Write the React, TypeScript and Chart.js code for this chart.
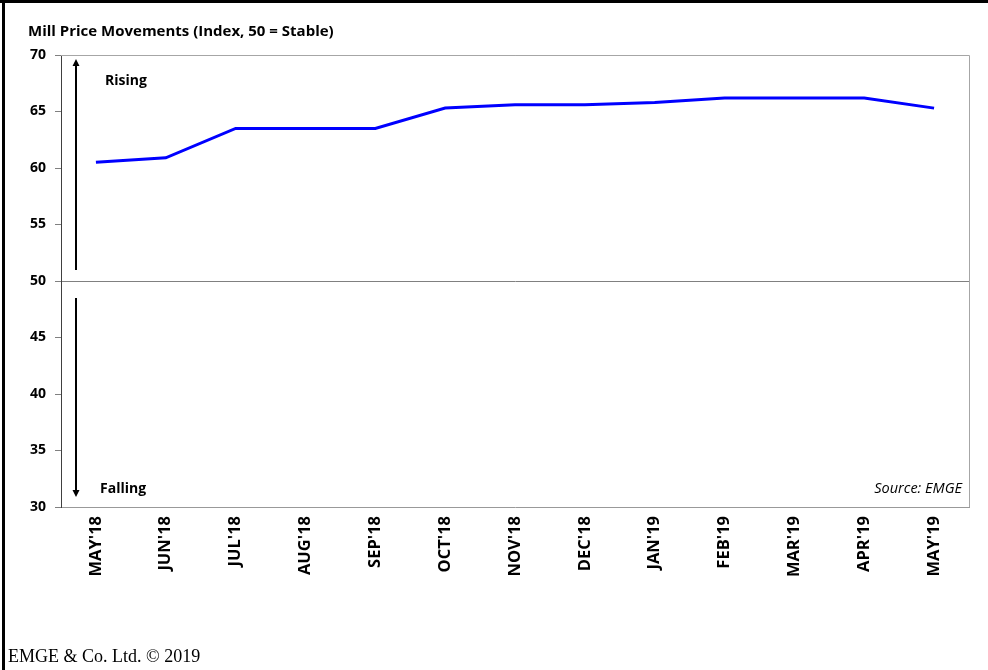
import React, { useEffect, useRef } from "react";
import { Chart, registerables } from "chart.js";

Chart.register(...registerables);

const months = [
  "MAY'18", "JUN'18", "JUL'18", "AUG'18", "SEP'18", "OCT'18", "NOV'18",
  "DEC'18", "JAN'19", "FEB'19", "MAR'19", "APR'19", "MAY'19",
];
const millPriceIndex = [60.5, 60.9, 63.5, 63.5, 63.5, 65.3, 65.6, 65.6, 65.8, 66.2, 66.2, 66.2, 65.3];
const yMin = 30;
const yMax = 70;
const yStep = 5;
const stableLevel = 50;

const titleText = "Mill Price Movements (Index, 50 = Stable)";
const risingText = "Rising";
const fallingText = "Falling";
const sourceText = "Source: EMGE";
const footerText = "EMGE & Co. Ltd. \u00A9 2019";

const SANS = "'Open Sans', Lato, 'DejaVu Sans', sans-serif";
const SERIF = "'Liberation Serif', 'DejaVu Serif', serif";

// Frame, title, direction arrows, notes and footer
const decorPlugin = {
  id: "decor",
  afterDraw(chart: any) {
    const { ctx, chartArea } = chart;
    const y = chart.scales.y;
    const { left, right, top, bottom } = chartArea;
    ctx.save();

    // page frame
    ctx.fillStyle = "#000";
    ctx.fillRect(0, 0, chart.width, 3);
    ctx.fillRect(2, 0, 3, chart.height);

    // plot border (top and right)
    ctx.strokeStyle = "#a6a6a6";
    ctx.lineWidth = 1;
    ctx.beginPath();
    ctx.moveTo(left, top + 0.5);
    ctx.lineTo(right + 0.5, top + 0.5);
    ctx.lineTo(right + 0.5, bottom);
    ctx.stroke();

    // title
    ctx.fillStyle = "#000";
    ctx.textBaseline = "alphabetic";
    ctx.textAlign = "left";
    ctx.font = `bold 15px ${SANS}`;
    ctx.fillText(titleText, 28, 36);

    // direction arrows
    const ax = left + 15;
    const midY = y.getPixelForValue(stableLevel);
    ctx.strokeStyle = "#000";
    ctx.lineWidth = 2;
    ctx.beginPath();
    ctx.moveTo(ax, midY - 11);
    ctx.lineTo(ax, top + 10);
    ctx.moveTo(ax, midY + 17);
    ctx.lineTo(ax, bottom - 16);
    ctx.stroke();
    ctx.beginPath();
    ctx.moveTo(ax, top + 4);
    ctx.lineTo(ax - 3.5, top + 11);
    ctx.lineTo(ax + 3.5, top + 11);
    ctx.closePath();
    ctx.moveTo(ax, bottom - 10);
    ctx.lineTo(ax - 3.5, bottom - 17);
    ctx.lineTo(ax + 3.5, bottom - 17);
    ctx.closePath();
    ctx.fill();

    ctx.font = `bold 14px ${SANS}`;
    ctx.fillText(risingText, left + 44, top + 30);
    ctx.fillText(fallingText, left + 39, bottom - 14);

    ctx.font = `italic 14.5px ${SANS}`;
    ctx.textAlign = "right";
    ctx.fillText(sourceText, right - 7, bottom - 14);

    // footer
    ctx.textAlign = "left";
    ctx.font = `18px ${SERIF}`;
    ctx.fillText(footerText, 8, 662);

    ctx.restore();
  },
};

export default function App() {
  const canvasRef = useRef<HTMLCanvasElement | null>(null);

  useEffect(() => {
    if (!canvasRef.current) return;
    const chart = new Chart(canvasRef.current, {
      type: "line",
      data: {
        labels: months,
        datasets: [
          {
            data: millPriceIndex,
            borderColor: "#0000FF",
            borderWidth: 3,
            pointRadius: 0,
            tension: 0,
            fill: false,
          },
        ],
      },
      options: {
        responsive: false,
        animation: false,
        devicePixelRatio: 1,
        layout: { padding: { left: 0, top: 55, right: 19, bottom: 0 } },
        plugins: {
          legend: { display: false },
          tooltip: { enabled: false },
          title: { display: false },
        },
        scales: {
          x: {
            offset: true,
            grid: { display: false, drawTicks: false },
            border: { display: true, color: "#999999", width: 1 },
            ticks: {
              color: "#000",
              font: { family: SANS, weight: "bold", size: 16.5 },
              minRotation: 90,
              maxRotation: 90,
              padding: 9,
              autoSkip: false,
            },
            afterFit(scale: any) {
              scale.height = 163;
            },
          },
          y: {
            min: yMin,
            max: yMax,
            grid: {
              color: (c: any) =>
                c.tick && c.tick.value === stableLevel
                  ? "#808080"
                  : c.tick && c.tick.value === yMax
                  ? "#a6a6a6"
                  : "rgba(0,0,0,0)",
              lineWidth: 1,
              drawTicks: true,
              tickLength: 6,
              tickColor: "#808080",
            },
            border: { display: true, color: "#404040", width: 1 },
            ticks: {
              stepSize: yStep,
              color: "#000",
              font: { family: SANS, weight: "bold", size: 14 },
              padding: 9,
            },
            afterFit(scale: any) {
              scale.width = 61;
            },
          },
        },
      },
      plugins: [decorPlugin],
    });
    return () => chart.destroy();
  }, []);

  return (
    <div style={{ position: "absolute", left: 0, top: 0, width: 988, height: 670, background: "#fff" }}>
      <canvas ref={canvasRef} width={988} height={670} style={{ display: "block" }} />
    </div>
  );
}
